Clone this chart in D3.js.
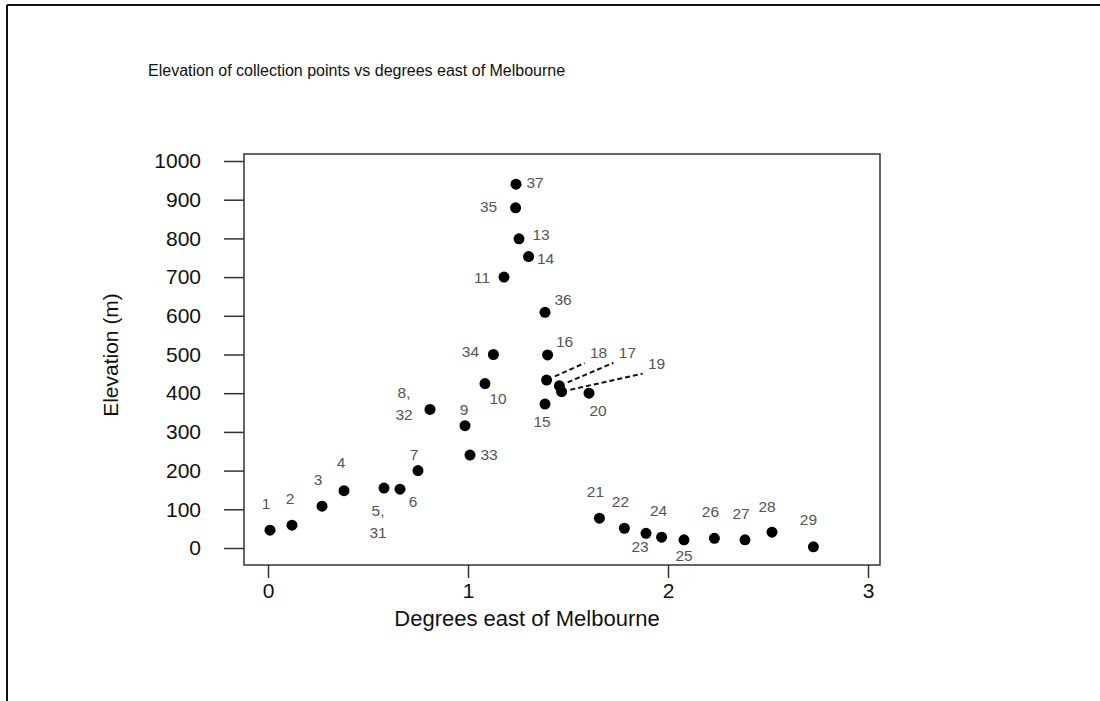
<!DOCTYPE html>
<html>
<head>
<meta charset="utf-8">
<script src="https://cdn.jsdelivr.net/npm/d3@7"></script>
<style>
  body { margin: 0; background: #fff; }
  text { font-family: "Liberation Sans", Arial, sans-serif; }
</style>
</head>
<body>
<div id="chart"></div>
<script>
// collection point labels, degrees east of Melbourne and elevation (m)
const pointLabels = ["1", "2", "3", "4", "5,|31", "6", "7", "8,|32", "9", "10", "11", "13", "14", "15",
  "16", "17", "18", "19", "20", "21", "22", "23", "24", "25", "26", "27", "28", "29", "33", "34", "35", "36", "37"];
const degrees = [0.01, 0.12, 0.27, 0.38, 0.58, 0.66, 0.75, 0.81, 0.985, 1.085, 1.18, 1.255, 1.303, 1.385,
  1.398, 1.457, 1.393, 1.468, 1.605, 1.657, 1.782, 1.89, 1.968, 2.08, 2.232, 2.385, 2.52, 2.727, 1.01, 1.127, 1.238, 1.385, 1.24];
const elevation = [46, 59, 108, 148, 155, 152, 200, 358, 316, 425, 700, 799, 753, 372,
  499, 419, 434, 404, 400, 77, 51, 38, 28, 21, 25, 21, 41, 3, 240, 500, 879, 609, 940];
const xTicks = [0, 1, 2, 3];
const yTicks = [0, 100, 200, 300, 400, 500, 600, 700, 800, 900, 1000];

// where each label sits relative to its point (px)
const labelOffsets = [[-4, -27], [-2, -27], [-4, -27], [-3, -28], [-6, 23], [13, 12], [-4, -16], [-26, -17],
  [-1, -16], [13, 15], [-22, 0], [22, -4], [17, 2], [-3, 18], [17, -13], [68, -33], [52, -27], [95, -28],
  [9, 17], [-4, -27], [-4, -27], [-6, 13], [-3, -27], [0, 16], [-4, -27], [-4, -26], [-5, -26], [-5, -27],
  [19, -1], [-23, -3], [-27, -1], [18, -13], [19, -2]];
const leaderLabels = ["17", "18", "19"];

const width = 1100;
const height = 701;

const svg = d3.select("#chart")
  .append("svg")
  .attr("width", width)
  .attr("height", height);

// page border (left and top only)
svg.append("line").attr("x1", 7).attr("x2", 7).attr("y1", 5).attr("y2", height)
  .attr("stroke", "#111").attr("stroke-width", 2);
svg.append("line").attr("x1", 7).attr("x2", width).attr("y1", 5).attr("y2", 5)
  .attr("stroke", "#111").attr("stroke-width", 2);

const x = d3.scaleLinear().domain([0, 3]).range([268, 868]);
const y = d3.scaleLinear().domain([0, 1000]).range([548, 161]);

// plot frame
const frame = { left: 244, right: 880, top: 154, bottom: 565 };
svg.append("rect")
  .attr("x", frame.left)
  .attr("y", frame.top)
  .attr("width", frame.right - frame.left)
  .attr("height", frame.bottom - frame.top)
  .attr("fill", "none")
  .attr("stroke", "#333")
  .attr("stroke-width", 1.5);

// y axis
const yAxis = svg.append("g")
  .attr("transform", `translate(${frame.left},0)`)
  .call(d3.axisLeft(y).tickValues(yTicks).tickSize(20).tickPadding(23).tickFormat(d3.format("d")));
yAxis.select(".domain").remove();
yAxis.selectAll("line").attr("stroke", "#333").attr("stroke-width", 1.5);
yAxis.selectAll("text").attr("font-size", "21px").attr("fill", "#111")
  .style("font-family", "'Liberation Sans', Arial, sans-serif");

// x axis
const xAxis = svg.append("g")
  .attr("transform", `translate(0,${frame.bottom})`)
  .call(d3.axisBottom(x).tickValues(xTicks).tickSize(13).tickPadding(5).tickFormat(d3.format("d")));
xAxis.select(".domain").remove();
xAxis.selectAll("line").attr("stroke", "#333").attr("stroke-width", 1.5);
xAxis.selectAll("text").attr("font-size", "21px").attr("fill", "#111")
  .style("font-family", "'Liberation Sans', Arial, sans-serif");

// titles
svg.append("text")
  .attr("x", 148)
  .attr("y", 76)
  .attr("font-size", "16px")
  .attr("fill", "#111")
  .text("Elevation of collection points vs degrees east of Melbourne");

svg.append("text")
  .attr("x", 527)
  .attr("y", 626)
  .attr("text-anchor", "middle")
  .attr("font-size", "22px")
  .attr("fill", "#111")
  .text("Degrees east of Melbourne");

svg.append("text")
  .attr("transform", `translate(118, 355) rotate(-90)`)
  .attr("text-anchor", "middle")
  .attr("font-size", "21px")
  .attr("fill", "#111")
  .text("Elevation (m)");

const points = pointLabels.map((label, i) => ({
  label: label,
  x: x(degrees[i]),
  y: y(elevation[i]),
  dx: labelOffsets[i][0],
  dy: labelOffsets[i][1]
}));

// dashed leader lines for the crowded cluster
points.filter(d => leaderLabels.includes(d.label)).forEach(d => {
  const ex = d.x + d.dx - 14;
  const ey = d.y + d.dy + 10;
  const len = Math.hypot(ex - d.x, ey - d.y);
  svg.append("line")
    .attr("x1", d.x + (ex - d.x) * 9 / len)
    .attr("y1", d.y + (ey - d.y) * 9 / len)
    .attr("x2", ex)
    .attr("y2", ey)
    .attr("stroke", "#111")
    .attr("stroke-width", 2)
    .attr("stroke-dasharray", "5,3");
});

// points
svg.selectAll(".dot")
  .data(points)
  .enter()
  .append("circle")
  .attr("class", "dot")
  .attr("cx", d => d.x)
  .attr("cy", d => d.y)
  .attr("r", 5.5)
  .attr("fill", "#000");

// point labels (two-line labels share a point)
const labels = svg.selectAll(".plabel")
  .data(points)
  .enter()
  .append("text")
  .attr("class", "plabel")
  .attr("text-anchor", "middle")
  .attr("font-size", "15.5px")
  .attr("fill", "#555");

labels.each(function (d) {
  const lines = d.label.split("|");
  lines.forEach((line, j) => {
    d3.select(this).append("tspan")
      .attr("x", d.x + d.dx)
      .attr("y", d.y + d.dy + j * 22)
      .attr("dy", "0.35em")
      .text(line);
  });
});
</script>
</body>
</html>
